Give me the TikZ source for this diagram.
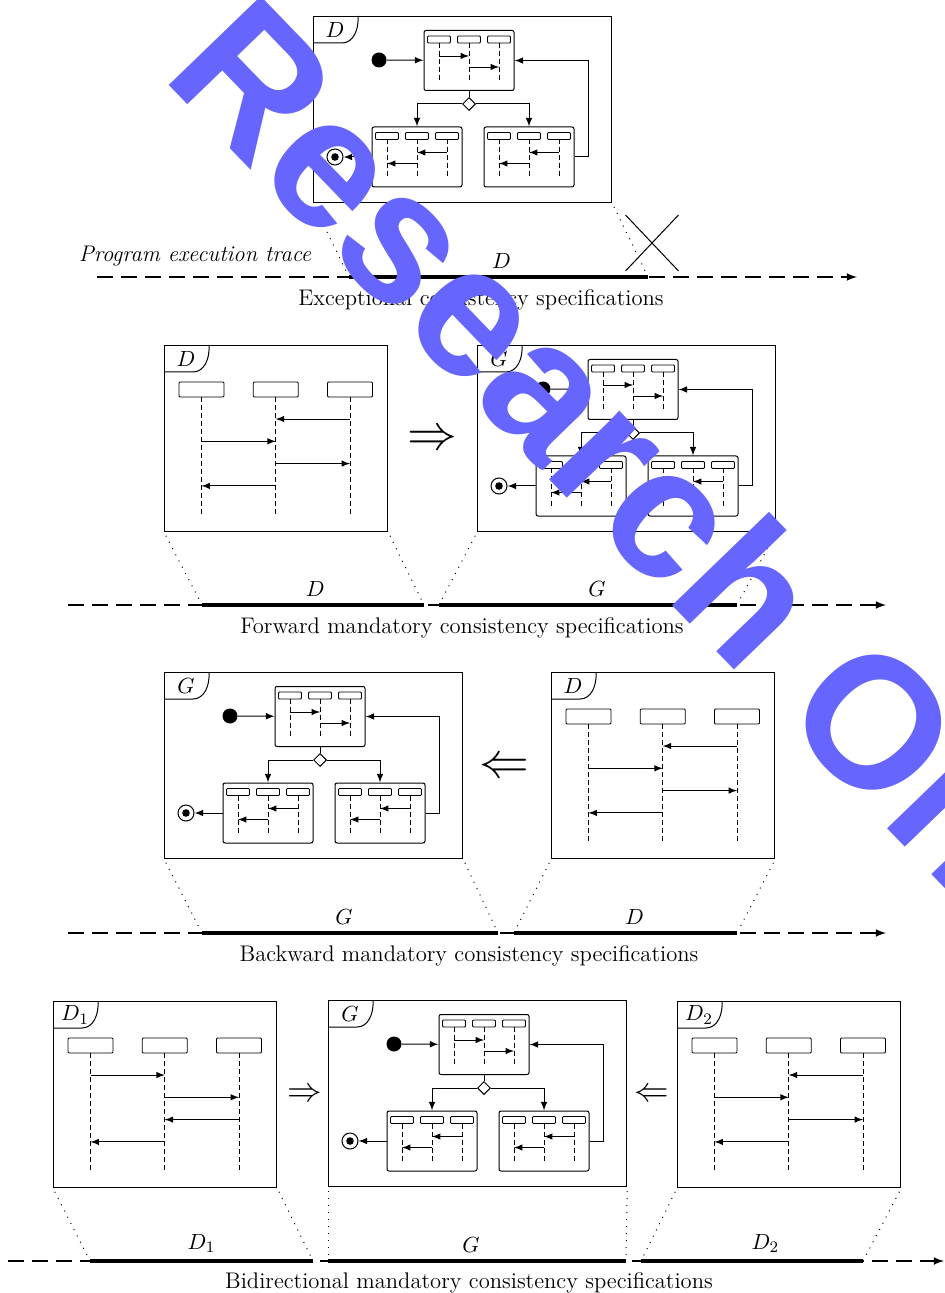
\documentclass[tikz,border=0pt]{standalone}
\usepackage{amsmath}
\usepackage{amssymb}
\usepackage{xcolor}
\usepackage{fontspec}
\usepackage{tikz}
\usetikzlibrary{shapes.geometric, shapes.misc, arrows, positioning, calc}

\newfontfamily\markfont{Liberation Sans}
\definecolor{markblue}{RGB}{102,102,255}

\begin{document}
\begin{tikzpicture}[
    x=0.5pt, y=-0.5pt,
    >=latex,
    font=\fontsize{11.3}{13}\selectfont,
    sdframe/.style={rectangle, draw, line width=0.6pt, inner sep=0pt, anchor=north west, minimum width=111.5pt, minimum height=93pt},
    ovframe/.style={sdframe, minimum width=149pt},
    actbox/.style={rectangle, draw, line width=0.5pt, rounded corners=1pt, inner sep=0pt, minimum width=45pt, minimum height=30pt},
    choice/.style={diamond, draw, fill=white, line width=0.5pt, inner sep=0pt, minimum size=6.5pt},
    startdot/.style={circle, fill=black, inner sep=0pt, minimum size=7.5pt},
    enddot/.style={circle, draw, fill=white, line width=0.5pt, inner sep=0pt, minimum size=8pt},
    flow/.style={->, line width=0.5pt},
    msg/.style={->, line width=0.45pt},
    lifeline/.style={line width=0.4pt, dash pattern=on 2.5pt off 1.5pt},
    trace/.style={->, line width=0.75pt, dash pattern=on 8pt off 4pt},
    span/.style={line width=2pt},
    zoomline/.style={line width=0.5pt, dash pattern=on 0.5pt off 3pt, shorten <=2pt, shorten >=3pt},
    spec/.style={inner sep=0pt},
    derive/.style={inner sep=0pt, font=\fontsize{23}{23}\selectfont},
    pics/tag/.style={code={
        \draw[line width=0.5pt] (0,27) -- (29,27) .. controls (40,27) and (46,14) .. (45,0);
        \node[inner sep=0pt] (-name) at (22,14) {$#1$};
    }},
    pics/lanes/.style={code={
        \foreach \lx in {-30,0,30} {
            \draw[line width=0.45pt, rounded corners=0.5pt] (\lx-11.5,6) rectangle (\lx+11.5,13);
            \draw[lifeline] (\lx,13) -- (\lx,50);
        }
        \draw[msg] (-30,26) -- (0,26);
        \draw[msg] (0,37) -- (30,37);
    }},
    pics/overview/.style={code={
        \node[actbox] (-top) at (0,-43.5) {};
        \node[choice] (-dec) at (0,0) {};
        \node[actbox] (-left) at (-52,53) {};
        \node[actbox] (-right) at (60,53) {};
        \node[startdot] (-init) at (-90,-44) {};
        \node[enddot] (-fin) at (-134,53) {};
        \fill (-fin) circle (1.9pt);
        \pic at (-top.north) {lanes};
        \pic[xscale=-1] at (-left.north) {lanes};
        \pic[xscale=-1] at (-right.north) {lanes};
        \draw[flow] (-init) -- (-top);
        \draw[line width=0.5pt] (-top) -- (-dec);
        \draw[flow] (-dec) -| (-left);
        \draw[flow] (-dec) -| (-right);
        \draw[flow] (-left) -- (-fin);
        \draw[flow] (-right.east) -- ++(14,0) |- (-top.east);
    }},
    pics/seq/.style={code={
        \foreach \k in {1,2,3} {
            \draw[line width=0.45pt, rounded corners=0.5pt] ({15+74.25*(\k-1)},37) rectangle ++(45,15);
            \draw[lifeline] ({37.5+74.25*(\k-1)},52) -- ++(0,117);
        }
        \foreach \s/\t [count=\i] in {#1}
            \draw[msg] ({37.5+74.25*(\s-1)},{51.7+22.3*\i}) -- ({37.5+74.25*(\t-1)},{51.7+22.3*\i});
    }}
]
\useasboundingbox (0,0) rectangle (945,1293);

% exceptional
\node[ovframe] (excf) at (313,16) {};
\pic (exct) at (excf.north west) {tag=D};
\pic (excg) at ($(excf.north west)+(156,88)$) {overview};
\coordinate (e0) at (97,277);
\coordinate (e1) at (857,277);
\coordinate (ea) at (349,277);
\coordinate (eb) at (648,277);
\draw[trace] (e0) -- (e1);
\draw[span] (ea) -- (eb) node[pos=0.51, above] (el) {$D$};
\draw[zoomline] (excf.south west) -- (ea);
\draw[zoomline] (excf.south east) -- (eb);
\node[cross out, draw, line width=0.5pt, minimum width=26pt, minimum height=27.5pt] (veto) at (652,243) {};
\node[spec, font=\fontsize{11.3}{13}\selectfont\itshape] (prog) at (195,256) {Program execution trace};
\node[spec] (ecap) at (481,300) {Exceptional consistency specifications};

% forward
\node[sdframe] (fwdd) at (164,345) {};
\pic (fwddt) at (fwdd.north west) {tag=D};
\pic at (fwdd.north west) {seq={3/2,1/2,2/3,2/1}};
\node[ovframe] (fwdg) at (477,345) {};
\pic (fwdgt) at (fwdg.north west) {tag=G};
\pic (fwdo) at ($(fwdg.north west)+(156,88)$) {overview};
\node[derive] (fwdimp) at (432,440) {$\Rightarrow$};
\coordinate (f0) at (68,605);
\coordinate (f1) at (886,605);
\coordinate (fa) at (202,605);
\coordinate (fb) at (424,605);
\coordinate (fc) at (439,605);
\coordinate (fd) at (737,605);
\draw[trace] (f0) -- (f1);
\draw[span] (fa) -- (fb) node[pos=0.51, above] (fl1) {$D$};
\draw[span] (fc) -- (fd) node[pos=0.53, above] (fl2) {$G$};
\draw[zoomline] (fwdd.south west) -- (fa);
\draw[zoomline] (fwdd.south east) -- (fb);
\draw[zoomline] (fwdg.south west) -- (fc);
\draw[zoomline] (fwdg.south east) -- (fd);
\node[spec] (fcap) at (462,628) {Forward mandatory consistency specifications};

% backward
\node[ovframe] (bwdg) at (164,672) {};
\pic (bwdgt) at (bwdg.north west) {tag=G};
\pic (bwdo) at ($(bwdg.north west)+(156,88)$) {overview};
\node[sdframe] (bwdd) at (551,672) {};
\pic (bwddt) at (bwdd.north west) {tag=D};
\pic at (bwdd.north west) {seq={3/2,1/2,2/3,2/1}};
\node[derive] (bwdimp) at (504,768) {$\Leftarrow$};
\coordinate (b0) at (68,933);
\coordinate (b1) at (886,933);
\coordinate (ba) at (202,933);
\coordinate (bb) at (498,933);
\coordinate (bc) at (514,933);
\coordinate (bd) at (737,933);
\draw[trace] (b0) -- (b1);
\draw[span] (ba) -- (bb) node[pos=0.48, above] (bl1) {$G$};
\draw[span] (bc) -- (bd) node[pos=0.54, above] (bl2) {$D$};
\draw[zoomline] (bwdg.south west) -- (ba);
\draw[zoomline] (bwdg.south east) -- (bb);
\draw[zoomline] (bwdd.south west) -- (bc);
\draw[zoomline] (bwdd.south east) -- (bd);
\node[spec] (bcap) at (469,956) {Backward mandatory consistency specifications};

% bidirectional
\node[sdframe] (bidl) at (53,1001) {};
\pic (bidlt) at (bidl.north west) {tag=D_1};
\pic at (bidl.north west) {seq={1/2,2/3,3/2,2/1}};
\node[ovframe] (bidg) at (328,1000) {};
\pic (bidgt) at (bidg.north west) {tag=G};
\pic (bido) at ($(bidg.north west)+(156,88)$) {overview};
\node[sdframe] (bidr) at (677,1001) {};
\pic (bidrt) at (bidr.north west) {tag=D_2};
\pic at (bidr.north west) {seq={3/2,1/2,2/3,2/1}};
\node[derive, font=\fontsize{19}{19}\selectfont] (bidimp1) at (305,1095) {$\Rightarrow$};
\node[derive, font=\fontsize{19}{19}\selectfont] (bidimp2) at (652,1095) {$\Leftarrow$};
\coordinate (d0) at (8,1261);
\coordinate (d1) at (944,1261);
\coordinate (da) at (90,1261);
\coordinate (db) at (313,1261);
\coordinate (dc) at (328,1261);
\coordinate (dd) at (626,1261);
\coordinate (de) at (641,1261);
\coordinate (df) at (863,1261);
\draw[trace] (d0) -- (d1);
\draw[span] (da) -- (db) node[pos=0.5, above] (dl1) {$D_1$};
\draw[span] (dc) -- (dd) node[pos=0.48, above] (dl2) {$G$};
\draw[span] (de) -- (df) node[pos=0.56, above] (dl3) {$D_2$};
\draw[zoomline] (bidl.south west) -- (da);
\draw[zoomline] (bidl.south east) -- (db);
\draw[zoomline] (bidg.south west) -- (dc);
\draw[zoomline] (bidg.south east) -- (dd);
\draw[zoomline] (bidr.south west) -- (de);
\draw[zoomline] (bidr.south east) -- (df);
\node[spec] (dcap) at (469,1283) {Bidirectional mandatory consistency specifications};

% watermark
\begin{scope}
    \clip (0,0) rectangle (945,1293);
    \node[font=\markfont\bfseries\fontsize{93}{93}\selectfont, text=markblue, rotate=-46, anchor=base west, inner sep=0pt] (mark) at (160,76) {Research Online};
\end{scope}
\end{tikzpicture}
\end{document}
